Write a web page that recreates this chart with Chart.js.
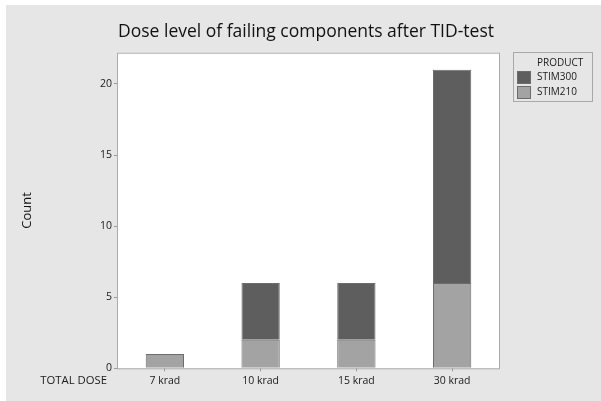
<!DOCTYPE html>
<html>
<head>
<meta charset="utf-8">
<script src="https://cdn.jsdelivr.net/npm/chart.js@4.4.0/dist/chart.umd.min.js"></script>
<style>
  body { margin: 0; background: #fff; }
  canvas { display: block; }
</style>
</head>
<body>
<canvas id="myChart" width="601" height="401"></canvas>
<script>
// values
const doseLabels = ['7 krad', '10 krad', '15 krad', '30 krad'];
const stim210 = [1, 2, 2, 6];
const stim300 = [0, 4, 4, 15];
const yTicks = [0, 5, 10, 15, 20];
const chartTitle = 'Dose level of failing components after TID-test';

const FONT = "'Open Sans', 'Noto Sans', sans-serif";
const DARK = '#5e5e5e';
const LIGHT = '#a3a3a3';
const EDGE = '#6c6c6c';
const BG = '#e6e6e6';

const frame = {
    id: 'frame',
    beforeDraw(chart) {
        const {ctx, chartArea: a} = chart;
        ctx.save();
        ctx.fillStyle = '#fff';
        ctx.fillRect(0, 0, chart.width, chart.height);
        ctx.fillStyle = BG;
        ctx.fillRect(6, 5, chart.width - 6, chart.height - 5);
        ctx.fillStyle = '#fff';
        ctx.fillRect(a.left, a.top, a.right - a.left, a.bottom - a.top);
        ctx.restore();
    },
    afterDatasetsDraw(chart) {
        const {ctx, chartArea: a} = chart;
        ctx.save();
        ctx.strokeStyle = '#ababab';
        ctx.lineWidth = 1;
        ctx.strokeRect(a.left + 0.5, a.top + 0.5, a.right - a.left - 1, a.bottom - a.top);
        ctx.restore();
    },
    afterDraw(chart) {
        const ctx = chart.ctx;
        ctx.save();
        // title, centred over the whole frame rather than the plot
        ctx.fillStyle = '#111';
        ctx.font = '500 17.5px ' + FONT;
        ctx.textAlign = 'center';
        ctx.textBaseline = 'alphabetic';
        ctx.fillText(chartTitle, 306, 37);

        // x axis caption on the left
        ctx.fillStyle = '#1a1a1a';
        ctx.font = '11.3px ' + FONT;
        ctx.textAlign = 'right';
        ctx.fillText('TOTAL DOSE', 107, 384);

        // legend box
        ctx.strokeStyle = '#a8a8a8';
        ctx.strokeRect(513.5, 52.5, 79, 49);
        ctx.font = '10px ' + FONT;
        ctx.textAlign = 'left';
        ctx.fillText('PRODUCT', 537, 66);
        const items = [
            {label: 'STIM300', color: DARK},
            {label: 'STIM210', color: LIGHT}
        ];
        items.forEach((it, i) => {
            const y = 71 + i * 15;
            ctx.fillStyle = it.color;
            ctx.fillRect(517.5, y + 0.5, 13, 12);
            ctx.strokeStyle = EDGE;
            ctx.strokeRect(517.5, y + 0.5, 13, 12);
            ctx.fillStyle = '#1a1a1a';
            ctx.fillText(it.label, 537, y + 9);
        });
        ctx.restore();
    }
};

new Chart(document.getElementById('myChart'), {
    type: 'bar',
    data: {
        labels: doseLabels,
        datasets: [
            {label: 'STIM210', data: stim210, backgroundColor: LIGHT, borderColor: EDGE, borderWidth: 1, borderSkipped: 'start'},
            {label: 'STIM300', data: stim300, backgroundColor: DARK, borderColor: EDGE, borderWidth: 1, borderSkipped: 'start'}
        ]
    },
    options: {
        responsive: false,
        animation: false,
        devicePixelRatio: 1,
        layout: {padding: {left: 0, right: 101, top: 52.7, bottom: 0}},
        datasets: {bar: {barPercentage: 0.4, categoryPercentage: 1}},
        plugins: {
            legend: {display: false},
            tooltip: {enabled: false},
            title: {display: false}
        },
        scales: {
            x: {
                stacked: true,
                offset: true,
                afterFit: s => { s.height = 32.7; },
                border: {display: false},
                grid: {offset: false, drawOnChartArea: false, tickLength: 3, color: '#999'},
                ticks: {color: '#1a1a1a', padding: 3, font: {family: FONT, size: 10.5}}
            },
            y: {
                stacked: true,
                min: 0,
                max: 22.2,
                afterFit: s => { s.width = 117; },
                afterBuildTicks: s => { s.ticks = yTicks.map(v => ({value: v})); },
                border: {display: false},
                grid: {drawOnChartArea: false, tickLength: 3, color: '#999'},
                ticks: {color: '#1a1a1a', padding: 2, font: {family: FONT, size: 10.5}},
                title: {
                    display: true,
                    text: 'Count',
                    color: '#111',
                    padding: {top: 19},
                    font: {family: FONT, size: 13, weight: '500'}
                }
            }
        }
    },
    plugins: [frame]
});
</script>
</body>
</html>
